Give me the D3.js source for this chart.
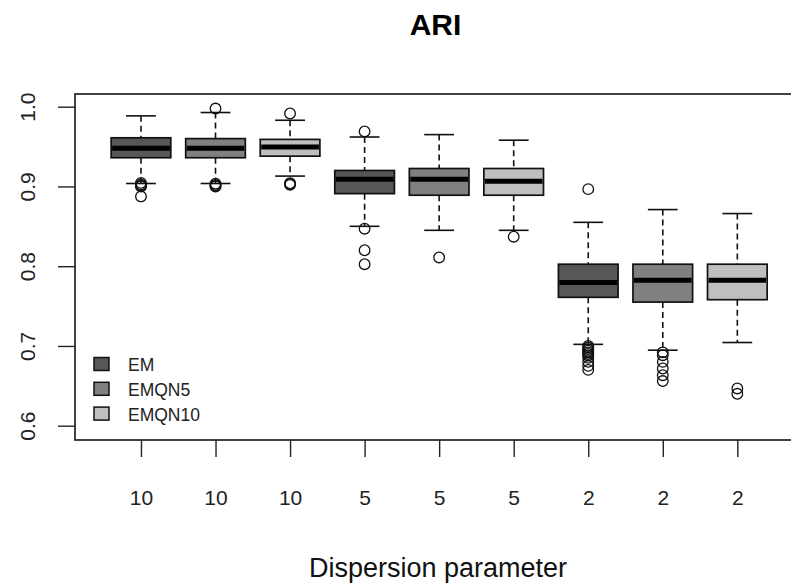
<!DOCTYPE html>
<html>
<head>
<meta charset="utf-8">
<script src="https://cdn.jsdelivr.net/npm/d3@7"></script>
<style>
  body { margin: 0; background: #fff; }
  svg { display: block; font-family: "Liberation Sans", Arial, sans-serif; }
</style>
</head>
<body>
<svg id="chart" width="791" height="586"></svg>
<script>
// ---- data ----
const categories = ["10", "10", "10", "5", "5", "5", "2", "2", "2"];
const methods = ["EM", "EMQN5", "EMQN10"];
const boxMethod = [0, 1, 2, 0, 1, 2, 0, 1, 2];

const upperWhisker = [0.9885, 0.9927, 0.983, 0.962, 0.965, 0.958, 0.855, 0.871, 0.866];
const upperQuartile = [0.961, 0.960, 0.959, 0.920, 0.9225, 0.9225, 0.8025, 0.8025, 0.8025];
const medians = [0.948, 0.948, 0.9496, 0.909, 0.909, 0.9066, 0.7796, 0.7824, 0.7824];
const lowerQuartile = [0.936, 0.936, 0.938, 0.891, 0.889, 0.889, 0.761, 0.755, 0.758];
const lowerWhisker = [0.9037, 0.9037, 0.913, 0.850, 0.845, 0.845, 0.702, 0.6947, 0.7043];
const outliers = [
  [0.9045, 0.9025, 0.901, 0.900, 0.8875],
  [0.9977, 0.9035, 0.902, 0.901, 0.900],
  [0.9915, 0.904, 0.903, 0.902],
  [0.969, 0.847, 0.820, 0.8025],
  [0.811],
  [0.837],
  [0.8966, 0.700, 0.698, 0.696, 0.694, 0.692, 0.690, 0.688, 0.685, 0.680, 0.675, 0.670],
  [0.692, 0.6884, 0.680, 0.6717, 0.6633, 0.656],
  [0.6467, 0.640]
];
const yTicks = [0.6, 0.7, 0.8, 0.9, 1.0];

// ---- styles ----
const fills = ["#575757", "#808080", "#bfbfbf"];
const boxWex = 0.8;

const svg = d3.select("#chart");

// scales (positions 1..9, R-like extended limits)
const x = d3.scaleLinear().domain([0.115, 9.885]).range([75, 803.3]);
const y = d3.scaleLinear().domain([0.6, 1.0]).range([425.7, 106.7]);
const plotTop = 94, plotBottom = 440;

// title
svg.append("text")
  .attr("x", 435.5).attr("y", 35)
  .attr("text-anchor", "middle")
  .attr("font-weight", "bold")
  .attr("font-size", 30)
  .text("ARI");

// x axis title
svg.append("text")
  .attr("x", 438).attr("y", 577)
  .attr("text-anchor", "middle")
  .attr("font-size", 27)
  .attr("fill", "#111")
  .text("Dispersion parameter");

// y axis
const yAxis = svg.append("g")
  .attr("transform", "translate(75,0)")
  .call(d3.axisLeft(y).tickValues(yTicks).tickSize(17).tickFormat(d3.format(".1f")));
yAxis.select(".domain").remove();
yAxis.selectAll("line").attr("stroke", "#222").attr("stroke-width", 1.4);
yAxis.selectAll("text")
  .attr("transform", "rotate(-90)")
  .attr("x", 0).attr("y", -40).attr("dy", 0)
  .attr("text-anchor", "middle")
  .attr("font-size", 21)
  .attr("fill", "#222");

// x axis
const positions = categories.map((c, i) => i + 1);
const xAxis = svg.append("g")
  .attr("transform", `translate(0,${plotBottom})`)
  .call(d3.axisBottom(x).tickValues(positions).tickSize(17).tickFormat((d, i) => categories[i]));
xAxis.select(".domain").remove();
xAxis.selectAll("line").attr("stroke", "#222").attr("stroke-width", 1.4);
xAxis.selectAll("text")
  .attr("y", 65).attr("dy", 0)
  .attr("font-size", 21)
  .attr("fill", "#222");

// boxes
const half = boxWex / 2;
const boxes = svg.append("g").selectAll("g.box")
  .data(positions)
  .enter().append("g").attr("class", "box");

// whiskers (dashed)
boxes.append("line")
  .attr("x1", d => x(d)).attr("x2", d => x(d))
  .attr("y1", (d, i) => y(upperWhisker[i])).attr("y2", (d, i) => y(upperQuartile[i]))
  .attr("stroke", "#111").attr("stroke-width", 1.6).attr("stroke-dasharray", "6,4");
boxes.append("line")
  .attr("x1", d => x(d)).attr("x2", d => x(d))
  .attr("y1", (d, i) => y(lowerQuartile[i])).attr("y2", (d, i) => y(lowerWhisker[i]))
  .attr("stroke", "#111").attr("stroke-width", 1.6).attr("stroke-dasharray", "6,4");

// staples
[upperWhisker, lowerWhisker].forEach(arr => {
  boxes.append("line")
    .attr("x1", d => x(d - half / 2)).attr("x2", d => x(d + half / 2))
    .attr("y1", (d, i) => y(arr[i])).attr("y2", (d, i) => y(arr[i]))
    .attr("stroke", "#111").attr("stroke-width", 1.6);
});

// box body
boxes.append("rect")
  .attr("x", d => x(d - half))
  .attr("width", d => x(d + half) - x(d - half))
  .attr("y", (d, i) => y(upperQuartile[i]))
  .attr("height", (d, i) => y(lowerQuartile[i]) - y(upperQuartile[i]))
  .attr("fill", (d, i) => fills[boxMethod[i]])
  .attr("stroke", "#111").attr("stroke-width", 1.7);

// median
boxes.append("line")
  .attr("x1", d => x(d - half) + 1).attr("x2", d => x(d + half) - 1)
  .attr("y1", (d, i) => y(medians[i])).attr("y2", (d, i) => y(medians[i]))
  .attr("stroke", "#000").attr("stroke-width", 5);

// outliers
boxes.each(function (d, i) {
  d3.select(this).selectAll("circle")
    .data(outliers[i])
    .enter().append("circle")
    .attr("cx", x(d))
    .attr("cy", v => y(v))
    .attr("r", 5.3)
    .attr("fill", "none")
    .attr("stroke", "#111")
    .attr("stroke-width", 1.3);
});

// plot frame (right side falls outside the picture)
svg.append("rect")
  .attr("x", 75).attr("y", plotTop)
  .attr("width", x.range()[1] - 75).attr("height", plotBottom - plotTop)
  .attr("fill", "none").attr("stroke", "#222").attr("stroke-width", 1.7);

// legend
const legend = svg.append("g").selectAll("g")
  .data(methods)
  .enter().append("g")
  .attr("transform", (d, i) => `translate(94,${364 + i * 24.8})`);
legend.append("rect")
  .attr("x", 0).attr("y", -6.5).attr("width", 15).attr("height", 13)
  .attr("fill", (d, i) => fills[i])
  .attr("stroke", "#111").attr("stroke-width", 1.5);
legend.append("text")
  .attr("x", 34).attr("y", 7)
  .attr("font-size", 17.5)
  .attr("fill", "#222")
  .text(d => d);
</script>
</body>
</html>
